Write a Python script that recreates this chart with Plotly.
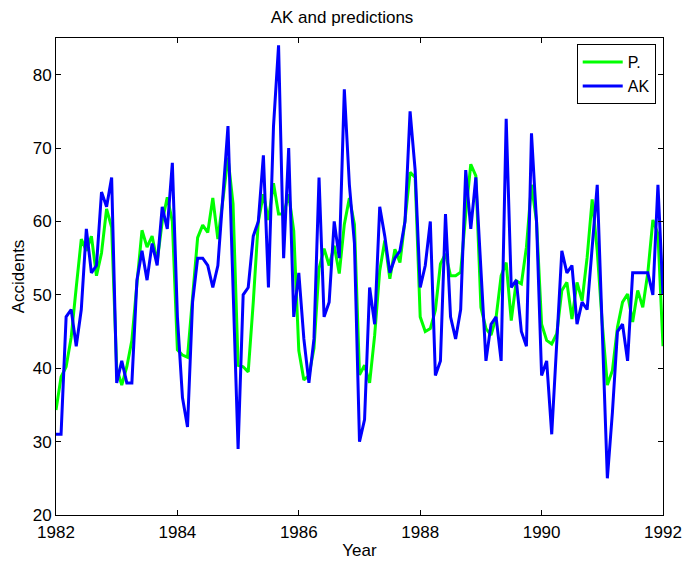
import plotly.graph_objects as go

start_year = 1982
n_months = 121
years = [start_year + k / 12 for k in range(n_months)]

ak = [31, 31, 47, 48, 43, 48, 59, 53, 54, 64, 62, 66,
      38, 41, 38, 38, 52, 56, 52, 57, 54, 62, 59, 68,
      47, 36, 32, 49, 55, 55, 54, 51, 54, 63, 73, 51,
      29, 50, 51, 58, 60, 69, 51, 73, 84, 55, 70, 47,
      53, 44, 38, 44, 66, 47, 49, 60, 55, 78, 65, 57,
      30, 33, 51, 46, 62, 58, 53, 55, 56, 60, 75, 67,
      51, 54, 60, 39, 41, 61, 47, 44, 48, 67, 59, 66,
      54, 41, 46, 47, 41, 74, 51, 52, 45, 43, 72, 60,
      39, 41, 31, 44, 56, 53, 54, 46, 49, 48, 56, 65,
      45, 25, 34, 45, 46, 41, 53, 53, 53, 53, 50, 65,
      50]

pred = [34.3, 38.8, 40.2, 44.2, 51.0, 57.6, 56.0, 58.0, 52.6, 55.7, 61.7, 59.2,
        40.0, 37.7, 40.2, 43.8, 51.5, 58.8, 56.5, 58.0, 54.5, 60.0, 63.3, 60.0,
        42.5, 41.8, 41.5, 49.7, 57.8, 59.5, 58.5, 63.2, 57.6, 63.0, 68.7, 62.4,
        40.4, 40.2, 39.5, 49.0, 60.0, 63.7, 60.2, 65.2, 61.0, 61.0, 63.7, 58.7,
        42.4, 38.4, 39.0, 42.7, 53.6, 56.3, 54.0, 56.7, 52.9, 59.6, 63.2, 59.6,
        39.1, 40.4, 38.0, 44.5, 53.3, 57.4, 52.2, 56.2, 54.4, 60.2, 66.7, 66.0,
        47.0, 45.0, 45.4, 47.9, 54.2, 55.6, 52.6, 52.6, 53.1, 61.0, 67.8, 66.2,
        48.3, 45.4, 44.5, 46.9, 52.6, 54.4, 46.5, 51.9, 51.5, 56.5, 65.0, 60.0,
        46.0, 43.8, 43.3, 44.7, 50.6, 51.7, 46.7, 51.7, 49.2, 55.1, 63.0, 56.0,
        46.0, 37.7, 39.7, 45.6, 49.0, 50.1, 46.3, 50.6, 48.3, 53.0, 60.2, 58.3,
        43.0]

x_ticks = [1982, 1984, 1986, 1988, 1990, 1992]
y_ticks = [20, 30, 40, 50, 60, 70, 80]

font_family = "Liberation Sans, Arial, Helvetica, sans-serif"

fig = go.Figure()
fig.add_trace(go.Scatter(x=years, y=pred, mode="lines", name="P.",
                         line=dict(color="#00ff00", width=3)))
fig.add_trace(go.Scatter(x=years, y=ak, mode="lines", name="AK",
                         line=dict(color="#0000ff", width=3)))

axis_common = dict(showline=True, linecolor="black", linewidth=1, mirror="ticks",
                   ticks="inside", ticklen=5, tickcolor="black", showgrid=False,
                   zeroline=False, automargin=False,
                   tickfont=dict(size=17, color="black"))

fig.update_layout(
    width=684, height=561,
    margin=dict(l=56, r=21, t=38, b=46),
    paper_bgcolor="white", plot_bgcolor="white",
    font=dict(family=font_family, color="black"),
    title=dict(text="AK and predictions", x=0.5, xanchor="center", y=0.97, yanchor="middle",
               font=dict(size=17, color="black")),
    xaxis=dict(range=[1982, 1992], tickvals=x_ticks, ticktext=[str(v) for v in x_ticks],
               ticklabelstandoff=2,
               title=dict(text="Year", font=dict(size=17), standoff=2), **axis_common),
    yaxis=dict(range=[20, 85], tickvals=y_ticks,
               title=dict(text="Accidents", font=dict(size=17), standoff=3), **axis_common),
    legend=dict(x=0.988, y=0.987, xanchor="right", yanchor="top",
                bgcolor="white", bordercolor="black", borderwidth=1,
                font=dict(size=16, color="black"), tracegroupgap=0,
                itemwidth=40),
    showlegend=True,
)

fig.write_html("out.html")
